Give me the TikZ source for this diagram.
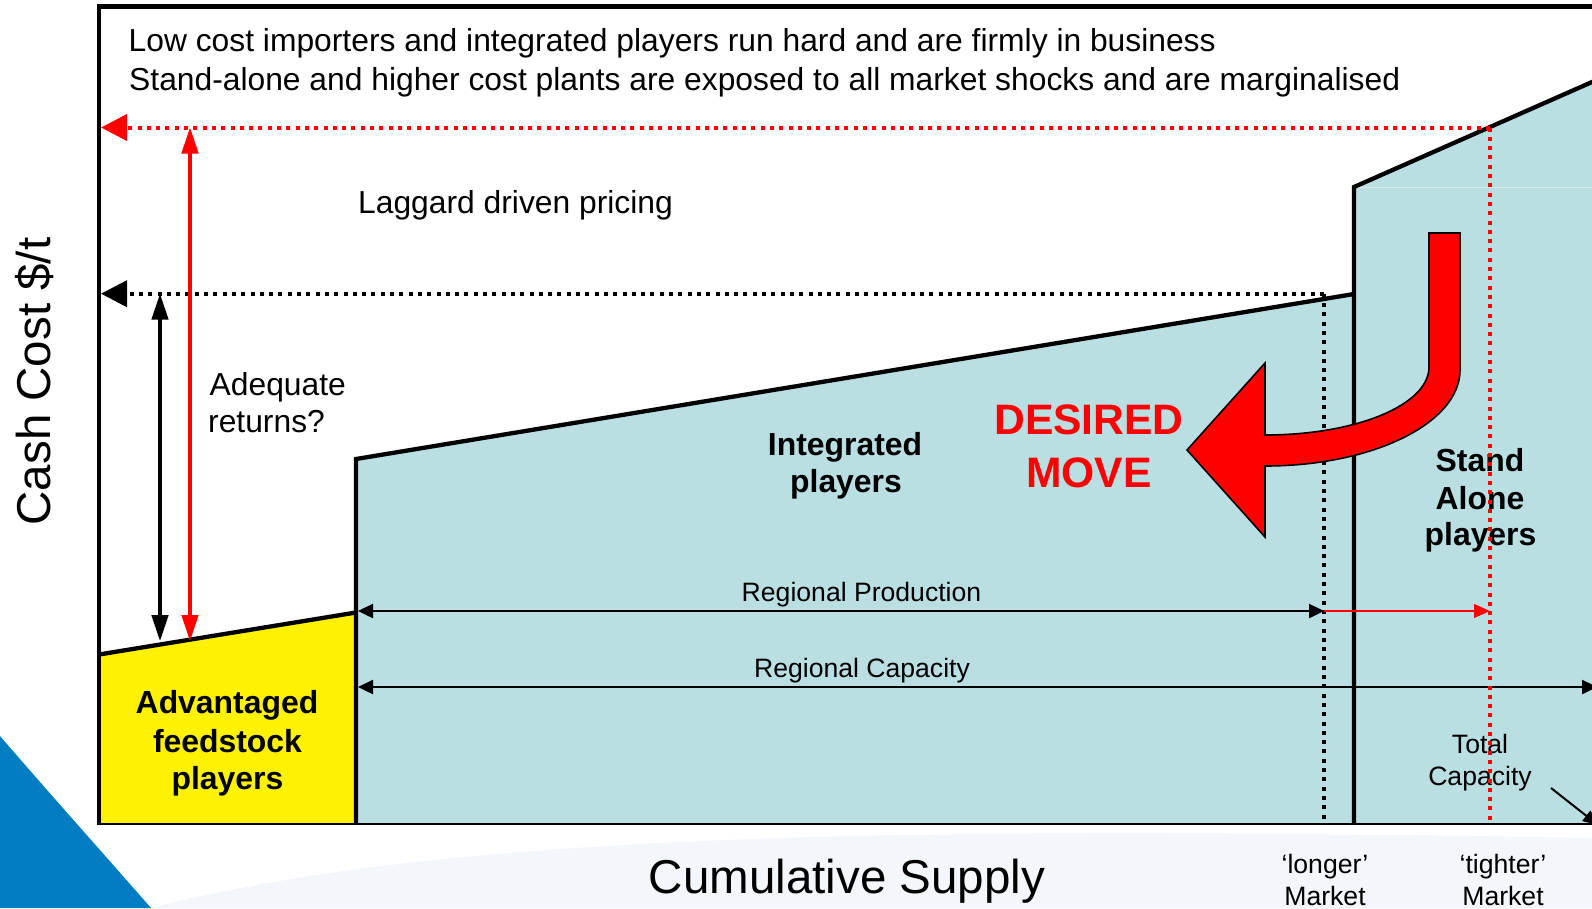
\documentclass[tikz,border=0pt]{standalone}
\usepackage{fontspec}
\setmainfont{Liberation Sans}
\usetikzlibrary{arrows.meta}
\definecolor{tealfill}{RGB}{186,223,227}
\definecolor{swoosh}{RGB}{0,124,194}
\definecolor{haze}{RGB}{243,246,250}
\definecolor{pure red}{RGB}{255,0,0}

\begin{document}
\begin{tikzpicture}[x=1pt,y=-1pt,
  edge/.style={line width=4.3pt, line join=miter},
  dotblk/.style={line width=4pt, dash pattern=on 4pt off 5.3pt},
  dotred/.style={dotblk, pure red},
  bighead/.style={-{Triangle[length=26pt,width=26pt]}},
  vspan/.style={line width=3.2pt,
    {Triangle[length=26pt,width=16.5pt]}-{Triangle[length=26pt,width=16.5pt]}},
  hspan/.style={line width=2.4pt,
    {Triangle[length=15pt,width=14pt]}-{Triangle[length=15pt,width=14pt]}},
  txt/.style={inner sep=0pt, anchor=base},
  txtw/.style={inner sep=0pt, anchor=base west},
  note/.style={txtw, font=\fontsize{31.8}{38}\selectfont},
  small/.style={txt, font=\fontsize{26.6}{32}\selectfont},
  axislbl/.style={txt, font=\fontsize{47.5}{56}\selectfont},
  group/.style={txt, font=\bfseries\fontsize{31.9}{38}\selectfont},
  movetxt/.style={txt, text=pure red, font=\bfseries\fontsize{42.6}{50}\selectfont}
]
\useasboundingbox (0,0) rectangle (1592,908);

% background decoration
\fill[haze] (150,908) .. controls (450,832) and (900,826) .. (1600,838) -- (1600,908) -- cycle;
\fill[swoosh] (0,736) .. controls (50,794) and (102,852) .. (151,908) -- (0,908) -- cycle;

% cost curve corner points
\coordinate (yTL) at (99,654.5);
\coordinate (yTR) at (356,612.5);
\coordinate (yBR) at (356,824);
\coordinate (yBL) at (99,824);
\coordinate (iTL) at (356,459);
\coordinate (iTR) at (1354,294);
\coordinate (iBR) at (1354,824);
\coordinate (sTL) at (1354,187);
\coordinate (sTR) at (1600,78.5);
\coordinate (sBR) at (1600,824);

% supply blocks
\fill[tealfill] (sTL) -- (sTR) -- (sBR) -- (iBR) -- cycle;
\fill[tealfill] (iTL) -- (iTR) -- (iBR) -- (yBR) -- cycle;
\fill[yellow] (yTL) -- (yTR) -- (yBR) -- (yBL) -- cycle;
\draw[white, opacity=0.45, line width=1pt] (1357,187) -- (1600,187);

\draw[edge] (yTL) -- (yTR);
\draw[edge] (yBR) -- (iTL) -- (iTR);
\draw[edge] (iBR) -- (sTL) -- (sTR);

% axes frame
\coordinate (frTL) at (99,6.5);
\coordinate (frTR) at (1600,6.5);
\coordinate (frBL) at (99,824);
\coordinate (frBR) at (1600,824);
\draw[line width=4.3pt, line join=miter] (frTR) -- (frTL) -- (frBL);
\draw[line width=2.7pt] ([xshift=-2pt]frBL) -- (frBR);

% price levels
\coordinate (lagPt) at (1324,293.7);
\coordinate (lagAx) at (101,293.7);
\coordinate (lagFoot) at (1324,824);
\coordinate (hiPt) at (1490,127.5);
\coordinate (hiAx) at (101,127.5);
\coordinate (hiFoot) at (1490,824);

\draw[dotblk, bighead] (lagPt) -- (lagAx);
\draw[dotblk] (lagPt) -- (lagFoot);

% margin spans
\coordinate (bTop) at (160,293.7);
\coordinate (bBot) at (160,641);
\coordinate (rTop) at (190,127.5);
\coordinate (rBot) at (190,641);
\draw[vspan] (bTop) -- (bBot);
\draw[vspan, pure red] (rTop) -- (rBot);

% production and capacity spans
\coordinate (prodL) at (358,611);
\coordinate (prodR) at (1324,611);
\coordinate (prodT) at (1490,611);
\coordinate (capL) at (358,687);
\coordinate (capR) at (1597,687);
\draw[hspan] (prodL) -- (prodR);
\draw[line width=2.5pt, pure red, -{Triangle[length=16pt,width=13.5pt]}] (prodR) -- (prodT);
\draw[hspan] (capL) -- (capR);

\coordinate (tcFrom) at (1551,788);
\coordinate (tcTo) at (1598,825);
\draw[line width=2pt, -{Triangle[length=15pt,width=13pt]}] (tcFrom) -- (tcTo);

% the desired move arrow
\draw[fill=pure red, line width=1.6pt, line join=miter]
  (1429,233) -- (1460,233) -- (1460,370)
  .. controls (1460,423) and (1373,466) .. (1265,466)
  -- (1265,537) -- (1187,450) -- (1265,363) -- (1265,435)
  .. controls (1356,435) and (1429,405) .. (1429,367) -- cycle;

% texts
\node[note] (t1) at (128.5,51) {Low cost importers and integrated players run hard and are firmly in business};
\node[note] (t2) at (129,90) {Stand-alone and higher cost plants are exposed to all market shocks and are marginalised};
\node[note] (lag) at (358,213) {Laggard driven pricing};
\node[note] (adq1) at (209.5,395) {Adequate};
\node[note] (adq2) at (208,432) {returns?};
\node[axislbl, rotate=90] (ylab) at (50.5,381.5) {Cash Cost \$/t};
\node[axislbl] (xlab) at (847,893) {Cumulative Supply};

\node[small] (long1) at (1325,873) {‘longer’};
\node[small] (long2) at (1325,905) {Market};
\node[small] (tight1) at (1503,873) {‘tighter’};
\node[small] (tight2) at (1503,905) {Market};
\node[small] (tc1) at (1480,753) {Total};
\node[small] (tc2) at (1480,785) {Capacity};
\node[small] (prodlbl) at (861.5,601) {Regional Production};
\node[small] (caplbl) at (862,677) {Regional Capacity};

\node[group] (ip1) at (845,455) {Integrated};
\node[group] (ip2) at (846,492) {players};
\node[group] (sa1) at (1480,471) {Stand};
\node[group] (sa2) at (1480,509) {Alone};
\node[group] (sa3) at (1480.5,545) {players};
\node[group] (af1) at (227,713) {Advantaged};
\node[group] (af2) at (227.5,752) {feedstock};
\node[group] (af3) at (227.5,789) {players};

\node[movetxt] (dm1) at (1089,434) {DESIRED};
\node[movetxt] (dm2) at (1089,487) {MOVE};

% high price level, drawn over the labels it crosses
\draw[dotred, bighead] (hiPt) -- (hiAx);
\draw[dotred] (hiPt) -- (hiFoot);
\end{tikzpicture}
\end{document}
